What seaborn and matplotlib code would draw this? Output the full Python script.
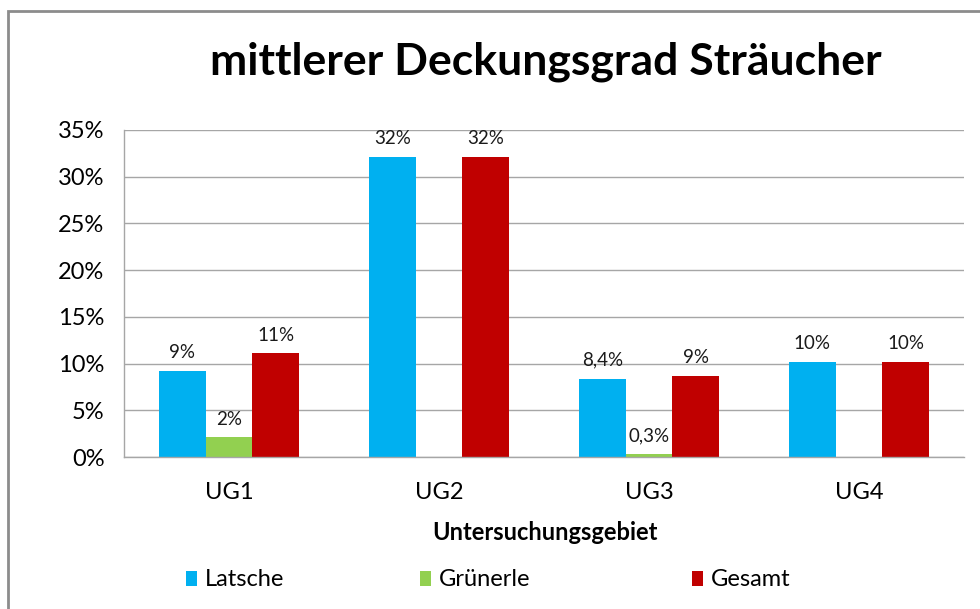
import pandas as pd
import matplotlib.pyplot as plt
import seaborn as sns
from matplotlib.ticker import PercentFormatter, MultipleLocator
from matplotlib.patches import Rectangle

gebiete = ['UG1', 'UG2', 'UG3', 'UG4']
arten = ['Latsche', 'Grünerle', 'Gesamt']
latsche = [9.2, 32.1, 8.4, 10.2]
gruenerle = [2.1, 0.0, 0.3, 0.0]
gesamt = [11.1, 32.1, 8.7, 10.2]
labels_latsche = ['9%', '32%', '8,4%', '10%']
labels_gruenerle = ['2%', '', '0,3%', '']
labels_gesamt = ['11%', '32%', '9%', '10%']
farben = ['#00B0F0', '#92D050', '#C00000']

df = pd.DataFrame({
    'Gebiet': gebiete * 3,
    'Art': [a for a in arten for _ in gebiete],
    'Wert': latsche + gruenerle + gesamt,
})

sns.set_theme(style='white')
plt.rcParams['font.family'] = ['Lato', 'DejaVu Sans']
plt.rcParams['text.color'] = 'black'
plt.rcParams['xtick.labelcolor'] = 'black'
plt.rcParams['ytick.labelcolor'] = 'black'

fig = plt.figure(figsize=(9.8, 6.09), dpi=100)
ax = fig.add_axes([124 / 980, 1 - 457 / 609, 840 / 980, 327 / 609])

sns.barplot(data=df, x='Gebiet', y='Wert', hue='Art', palette=farben,
            width=0.667, saturation=1, errorbar=None, linewidth=0, ax=ax)
handles, names = ax.get_legend_handles_labels()
ax.get_legend().remove()

# data labels
for cont, labs in zip(ax.containers, [labels_latsche, labels_gruenerle, labels_gesamt]):
    ax.bar_label(cont, labels=labs, padding=7, fontsize=13.5, color='#1a1a1a')

grau = '#A6A6A6'
ax.set_ylim(0, 35)
ax.set_xlim(-0.5, 3.5)
ax.yaxis.set_major_locator(MultipleLocator(5))
ax.yaxis.set_major_formatter(PercentFormatter(decimals=0))
ax.yaxis.grid(True, color=grau, lw=1)
ax.set_axisbelow(True)

ax.set_xticks([-0.5, 0.5, 1.5, 2.5, 3.5], minor=True)
ax.tick_params(axis='x', which='major', length=0, pad=18, labelsize=17)
ax.tick_params(axis='x', which='minor', length=8, color=grau, width=1, direction='out')
ax.tick_params(axis='y', length=8, color=grau, width=1, direction='out', labelsize=17, pad=6)

for side in ['top', 'right']:
    ax.spines[side].set_visible(False)
for side in ['left', 'bottom']:
    ax.spines[side].set_color(grau)
    ax.spines[side].set_linewidth(1)

ax.set_xlabel('')
ax.set_ylabel('')

fig.text(546 / 980, 1 - 62 / 609, 'mittlerer Deckungsgrad Sträucher',
         ha='center', va='center', fontsize=32, fontweight='bold')
fig.text(545 / 980, 1 - 532 / 609, 'Untersuchungsgebiet',
         ha='center', va='center', fontsize=17, fontweight='bold')

# legend entries placed one by one like in the original
for h, n, x in zip(handles, names, [177 / 980, 411 / 980, 683 / 980]):
    fig.legend([h], [n], loc='center left', bbox_to_anchor=(x, 1 - 580 / 609),
               frameon=False, fontsize=17, handlelength=0.45, handleheight=0.6,
               handletextpad=0.35, borderaxespad=0)

fig.patches.append(Rectangle((8 / 980, -0.1), 1.2, 1.1 - 11 / 609, transform=fig.transFigure,
                             fill=False, edgecolor='#8C8C8C', lw=2))

fig.savefig('out.png', dpi=100)
